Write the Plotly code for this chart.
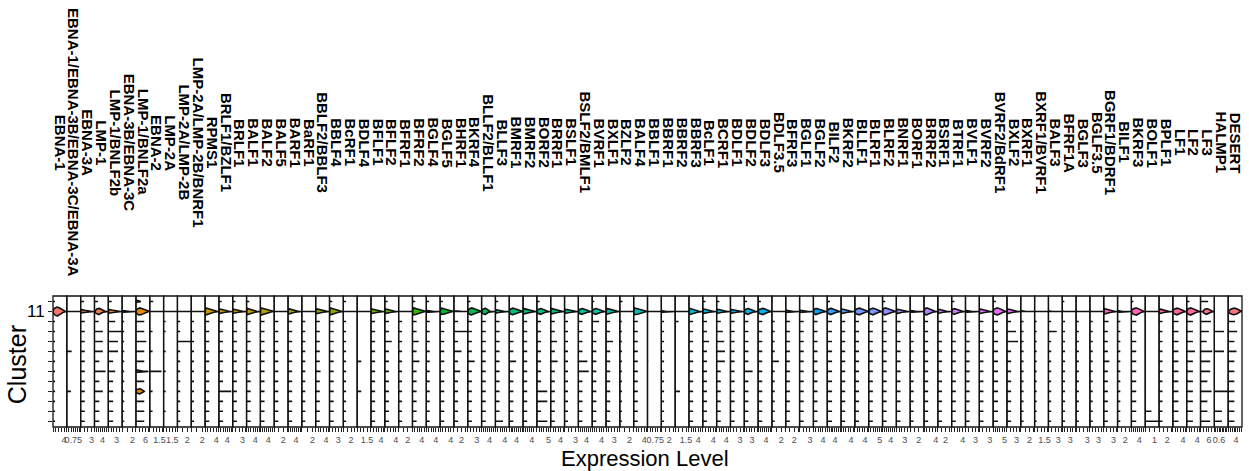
import math
import plotly.graph_objects as go

genes = ["EBNA-1", "EBNA-1/EBNA-3B/EBNA-3C/EBNA-3A", "EBNA-3A", "LMP-1", "LMP-1/BNLF2b",
         "EBNA-3B/EBNA-3C", "LMP-1/BNLF2a", "EBNA-2", "LMP-2A", "LMP-2A/LMP-2B",
         "LMP-2A/LMP-2B/BNRF1", "RPMS1", "BRLF1/BZLF1", "BRLF1", "BALF1", "BALF2", "BALF5",
         "BARF1", "BaRF1", "BBLF2/BBLF3", "BBLF4", "BcRF1", "BDLF4", "BFLF1", "BFLF2", "BFRF1",
         "BFRF2", "BGLF4", "BGLF5", "BHRF1", "BKRF4", "BLLF2/BLLF1", "BLLF3", "BMRF1", "BMRF2",
         "BORF2", "BRRF1", "BSLF1", "BSLF2/BMLF1", "BVRF1", "BXLF1", "BZLF2", "BALF4", "BBLF1",
         "BBRF1", "BBRF2", "BBRF3", "BcLF1", "BCRF1", "BDLF1", "BDLF2", "BDLF3", "BDLF3.5",
         "BFRF3", "BGLF1", "BGLF2", "BILF2", "BKRF2", "BLLF1", "BLRF1", "BLRF2", "BNRF1", "BORF1",
         "BRRF2", "BSRF1", "BTRF1", "BVLF1", "BVRF2", "BVRF2/BdRF1", "BXLF2", "BXRF1",
         "BXRF1/BVRF1", "BALF3", "BFRF1A", "BGLF3", "BGLF3.5", "BGRF1/BDRF1", "BILF1", "BKRF3",
         "BOLF1", "BPLF1", "LF1", "LF2", "LF3", "HALMP1", "DESERT"]

tick_value = [4, 0.75, 3, 4, 3, 2, 6, 1.5, 1.5, 2, 2, 4, 4, 3, 4, 4, 2, 4, 2,
              4, 3, 2, 1.5, 4, 4, 2, 4, 4, 4, 2, 3, 4, 4, 4, 4, 5, 4, 3, 4, 4, 3,
              2, 4, 0.75, 2, 1.5, 4, 4, 4, 3, 3, 4, 2, 2, 3, 4, 4, 4, 4, 5, 4, 3,
              2, 4, 2, 4, 3, 3, 5, 3, 2, 1.5, 3, 3, 3, 3, 3, 2, 4, 1, 2, 4, 4, 6, 0.6, 4]

max_expr = [5.0, 1.6, 3.8, 6.9, 5.0, 2.67, 8.7, 2.14, 2.4, 2.8, 2.5, 4.9, 6.6, 4.3, 6.4, 7.1, 3.1, 6.9, 2.6,
            5.3, 4.8, 3.6, 2.1, 5.5, 5.0, 3.0, 5.9, 5.8, 5.2, 3.6, 4.6, 6.9, 6.0, 7.5, 6.4, 5.9, 5.6, 3.8, 6.9, 6.0, 5.0,
            2.9, 5.2, 1.33, 3.45, 1.9, 6.0, 5.3, 5.8, 4.3, 5.4, 6.9, 3.0, 3.3, 4.0, 5.8, 7.2, 5.6, 5.5, 6.25, 6.7, 5.0,
            3.2, 4.75, 3.6, 5.0, 4.1, 4.0, 6.1, 4.3, 3.2, 2.1, 4.2, 5.2, 3.7, 4.9, 4.3, 3.6, 7.1, 1.5, 3.4, 5.4, 5.3, 9.8, 1.76, 7.1]

# cluster 11 density bulge (relative to gene max): start, mode, end, relative width
b11_start = [0, 0, 0, 0.05, 0, 0, 0, 0, 0, 0, 0, 0, 0, 0, 0, 0, 0, 0, 0,
             0, 0, 0, 0, 0, 0, 0, 0, 0, 0, 0, 0, 0, 0, 0, 0, 0, 0, 0, 0, 0, 0,
             0, 0, 0, 0, 0, 0, 0, 0, 0, 0, 0, 0, 0, 0, 0, 0, 0, 0, 0, 0, 0,
             0, 0, 0, 0, 0, 0, 0, 0, 0, 0, 0, 0, 0, 0, 0, 0, 0, 0, 0, 0, 0, 0.2, 0, 0.05]
b11_peak = [0.35, 0, 0.1, 0.35, 0.1, 0.05, 0.3, 0, 0, 0, 0, 0.05, 0.05, 0.05, 0.05, 0.05, 0, 0.05, 0,
            0.05, 0.05, 0, 0, 0.05, 0.05, 0, 0.1, 0.05, 0.1, 0.05, 0.3, 0.3, 0.05, 0.3, 0.05, 0.3, 0.05, 0.05, 0.3, 0.3, 0.1,
            0, 0.05, 0, 0.05, 0, 0.05, 0.05, 0.05, 0.05, 0.3, 0.4, 0, 0.05, 0.05, 0.2, 0.3, 0.05, 0.35, 0.35, 0.2, 0.05,
            0.05, 0.2, 0.05, 0.2, 0.05, 0.05, 0.35, 0.05, 0.05, 0, 0.05, 0.05, 0, 0.05, 0.05, 0.05, 0.4, 0, 0.05, 0.35, 0.3, 0.5, 0, 0.5]
b11_end = [0.8, 0, 0.6, 0.7, 0.65, 0.3, 0.9, 0, 0, 0, 0, 0.75, 0.6, 0.55, 0.75, 0.85, 0, 0.6, 0,
           0.65, 0.75, 0, 0, 0.65, 0.6, 0, 0.85, 0.35, 0.85, 0.3, 0.85, 0.55, 0.5, 0.85, 0.7, 0.7, 0.7, 0.65, 0.75, 0.75, 0.7,
           0, 0.9, 0, 0.2, 0, 0.75, 0.6, 0.55, 0.6, 0.7, 0.8, 0, 0.35, 0.4, 0.75, 0.75, 0.6, 0.85, 0.8, 0.8, 0.6,
           0.3, 0.7, 0.5, 0.7, 0.3, 0.6, 0.8, 0.6, 0.2, 0, 0.15, 0.15, 0, 0.1, 0.65, 0.2, 0.8, 0, 0.55, 0.8, 0.8, 0.8, 0, 0.9]
b11_width = [1.0, 0, 0.4, 0.7, 0.45, 0.2, 0.8, 0, 0, 0, 0, 0.8, 0.55, 0.5, 0.7, 0.8, 0, 0.6, 0,
             0.6, 0.8, 0, 0, 0.55, 0.55, 0, 0.8, 0.25, 0.75, 0.15, 0.8, 0.7, 0.4, 0.75, 0.65, 0.65, 0.65, 0.5, 0.65, 0.65, 0.65,
             0, 0.8, 0, 0.2, 0, 0.7, 0.55, 0.5, 0.45, 0.65, 0.7, 0, 0.3, 0.3, 0.7, 0.7, 0.55, 0.75, 0.75, 0.8, 0.5,
             0.25, 0.8, 0.5, 0.65, 0.25, 0.55, 0.8, 0.55, 0.15, 0, 0.15, 0.1, 0, 0.1, 0.65, 0.2, 0.8, 0, 0.55, 0.75, 0.8, 0.65, 0, 0.75]

# other clusters with a visible density bulge: (gene, cluster, start, mode, end, width)
extra_bulges = [("LMP-1/BNLF2a", 12, 0, 0.05, 0.35, 0.3),
                ("LMP-1/BNLF2a", 5, 0, 0.05, 0.35, 0.3),
                ("LMP-1/BNLF2a", 3, 0, 0.3, 0.6, 0.6)]

# maximum expression per cluster, relative to the gene maximum (top row = cluster 12)
clu12 = [.15, 0, .25, .25, .25, 0, .35, .25, 0, 0, 0, 0, .2, .2, .2, 0, 0, 0, 0,
         0, .2, .2, 0, 0, .2, 0, .2, .2, .2, 0, .2, 0, .2, 0, 0, .2, 0, 0, 0, .15, 0,
         .2, 0, 0, 0, 0, 0, .2, .2, 0, .2, .2, 0, 0, 0, 0, .2, 0, 0, 0, .2, 0,
         0, 0, 0, .2, 0, 0, .2, 0, 0, 0, 0, .15, 0, 0, 0, 0, .15, 0, 0, 0, .2, .55, 0, 0]
clu11 = [1, 1, 1, 1, 1, 1, 1, 1, 1, 1, 1, 1, 1, 1, 1, 1, 1, 1, 1,
         1, 1, 1, 1, 1, 1, 1, 1, 1, 1, 1, 1, 1, 1, 1, 1, 1, 1, 1, 1, 1, 1,
         1, 1, 1, 1, 1, 1, 1, 1, 1, 1, 1, 1, 1, 1, 1, 1, 1, 1, 1, 1, 1,
         1, 1, 1, 1, 1, 1, 1, 1, 1, 1, 1, 1, 1, 1, 1, 1, 1, 1, 1, 1, 1, 1, 0, 1]
clu10 = [.15, 0, .3, .3, .5, .15, .6, 0, .15, .2, .2, .3, .3, .3, .3, .3, .3, .3, .25,
         .3, .3, .2, 0, .3, .3, .25, .3, .25, .3, .3, .3, .3, .3, .3, .3, .3, .3, .25, .3, .5, .3,
         .15, .3, 0, .2, .25, .3, .3, .3, .3, .3, .3, .2, .3, .3, .3, .35, .3, .3, .3, .3, .3,
         .25, .3, .3, .3, .3, .3, .35, .3, .2, .15, .2, .2, .2, .2, .35, .2, .35, 0, .25, .4, .45, .75, 0, .5]
clu9 = [.15, 0, .3, .6, 1.0, .15, .6, .2, .15, .2, .2, .3, .3, .3, .3, .3, .3, .3, .25,
        .3, .3, .2, 0, .3, .3, .25, .3, .25, .3, 1.0, .3, .3, .3, .3, .3, .3, .3, .25, .3, .3, .3,
        .15, .3, 0, .2, 0, .3, .3, .45, .3, .3, .3, .2, .3, .3, .3, .35, .3, .3, .3, .3, .3,
        .25, .3, .3, .3, .3, .3, .35, .65, .2, .15, .6, .2, .2, .2, .3, .2, .35, 0, .25, .4, .45, .6, .7, .65]
clu8 = [.15, 0, .3, .6, .7, .15, .75, 0, 0, 1.0, .2, .3, .3, .3, .3, .3, .3, .3, .25,
        .3, .3, .2, 0, .3, .5, .25, .45, .25, .3, .3, .3, .3, .3, .3, .3, .3, .45, .25, .3, .3, .5,
        .15, .3, 0, .2, 0, .3, .45, .55, .3, .3, .3, .2, .3, .3, .3, .35, .3, .3, .3, .3, .3,
        .25, .3, .3, .3, .3, .3, .35, .8, .2, .15, .2, .2, .2, .2, .3, .2, .35, 0, .25, .4, .45, .45, 0, .45]
clu7 = [.15, .35, .3, .6, .7, .15, .6, .2, .15, .2, .2, .3, .3, .3, .3, .3, .3, .3, .25,
        .3, .3, .2, 0, .3, .3, .25, .3, .25, .3, .55, .3, .3, .3, .3, .3, .3, .3, .25, .3, .3, .3,
        .15, .3, 0, .2, 0, .3, .3, .6, .3, .3, .3, .2, .3, .3, .3, .35, .3, .3, .3, .3, .3,
        .25, .3, .3, .3, .3, .3, .35, .3, .2, .15, .2, .2, .2, .2, .3, .2, .35, 0, .25, .4, .6, .85, .7, .6]
clu6 = [.15, 0, .3, .35, .35, .15, .6, 0, 0, .2, .2, .3, .3, .3, .3, .3, .3, .3, .25,
        .3, .3, .2, .3, .3, .3, .25, .5, .25, .3, .3, .5, .3, .3, .5, .3, .3, .5, .25, .65, .3, .3,
        .15, .3, .05, .2, 0, .3, .3, .6, .3, .3, .3, .5, .3, .3, .3, .35, .3, .3, .3, .3, .3,
        .25, .3, .3, .3, .3, .3, .35, .3, .2, .15, .2, .2, .2, .2, .4, .2, .35, 0, .25, .4, .45, .7, 0, .45]
clu5 = [.15, 0, .3, .8, .5, .15, .9, .85, .15, .2, .2, .3, .3, .3, .3, .3, .3, .3, .25,
        .35, .3, .2, 0, .3, .3, .25, .3, .25, .3, .45, .3, .3, .3, .3, .3, .3, .3, .25, .75, .3, .3,
        .15, .3, 0, .2, 0, .3, .3, .3, .3, .6, .3, .2, .3, .3, .3, .35, .3, .3, .3, .3, .3,
        .25, .3, .3, .3, .3, .3, .35, .3, .2, .15, .2, .2, .2, .2, .3, .2, .35, 0, .25, .4, .45, .7, 0, .45]
clu4 = [.15, 0, .3, .35, .35, .15, .6, 0, 0, .2, .2, .3, .3, .3, .3, .3, .3, .3, .25,
        .3, .3, .2, 0, .3, .3, .25, .3, .25, .3, .3, .3, .3, .3, .3, .3, .3, .3, .25, .3, .3, .3,
        .15, .3, 0, .2, 0, .3, .3, .3, .3, .3, .3, .2, .3, .3, .3, .35, .3, .3, .3, .3, .3,
        .25, .3, .3, .3, .3, .3, .35, .3, .2, .15, .2, .2, .2, .2, .3, .2, .35, 0, .25, .4, .45, .5, 0, .45]
clu3 = [.15, .3, .3, .6, .35, .15, .6, .2, .15, .2, .2, .3, .9, .3, .3, .3, .3, .3, .25,
        .3, .3, .2, .3, .3, .3, .25, .3, .25, .3, .3, .3, .3, .3, .3, .3, .75, .3, .25, .3, .3, .3,
        .15, .3, 0, .2, .35, .3, .3, .3, .3, .3, .3, .2, .3, .3, .3, .35, .3, .3, .3, .3, .3,
        .25, .3, .3, .3, .3, .3, .35, .3, .2, .15, .2, .2, .2, .2, .3, .2, .35, 0, .25, .4, .45, .8, 1.0, .45]
clu2 = [.15, 0, .3, .35, .35, .15, .6, 0, 0, .2, .2, .3, .3, .3, .3, .3, .3, .3, .25,
        .3, .3, .2, 0, .3, .3, .25, .3, .25, .3, .3, .3, .3, .3, .3, .3, .75, .3, .25, .3, .3, .3,
        .15, .3, 0, .2, 0, .3, .3, .3, .3, .3, .3, .2, .3, .3, .3, .35, .3, .3, .3, .3, .3,
        .25, .3, .3, .3, .3, .3, .35, .3, .2, .15, .2, .2, .2, .2, .3, .2, .35, 0, .25, .4, .45, .5, 0, .45]
clu1 = [.15, 0, .3, .35, .35, .15, .6, .2, .15, .2, .2, .3, .3, .3, .3, .3, .3, .3, .25,
        .3, .3, .2, 0, .3, .3, .25, .3, .25, .3, .3, .3, .3, .3, .3, .3, .3, .3, .25, .3, .3, .3,
        .15, .3, 0, .2, 0, .3, .3, .3, .3, .3, .3, .2, .3, .3, .3, .35, .3, .3, .3, .3, .3,
        .25, .3, .3, .3, .3, .3, .35, .3, .2, .15, .2, .2, .2, .2, .3, .2, .35, .45, .25, .4, .45, .5, .55, .45]
clu0 = [.15, 0, .3, .35, .35, .15, .6, 0, 0, .2, .2, .3, .3, .3, .3, .3, .3, .3, .25,
        .3, .3, .2, 0, .3, .3, .25, .3, .25, .3, .3, .3, .3, .55, .3, .3, .75, .3, .25, .3, .3, .3,
        .15, .3, 0, .2, 0, .3, .3, .3, .3, .3, .3, .2, .3, .3, .3, .35, .3, .3, .3, .3, .3,
        .25, .3, .3, .3, .3, .3, .35, .3, .2, .15, .2, .2, .2, .2, .3, .2, .35, 1.0, .25, .4, .45, .7, .55, .45]

clu_rel = {0: clu0, 1: clu1, 2: clu2, 3: clu3, 4: clu4, 5: clu5, 6: clu6,
           7: clu7, 8: clu8, 9: clu9, 10: clu10, 11: clu11, 12: clu12}
cluster_labels = {11: "11"}


def hcl_hex(h, c=100.0, l=65.0):
    Xn, Yn, Zn = 95.047, 100.0, 108.883
    den = Xn + 15 * Yn + 3 * Zn
    un, vn = 4 * Xn / den, 9 * Yn / den
    hr = math.radians(h)
    u, v = c * math.cos(hr), c * math.sin(hr)
    Y = Yn * ((l + 16) / 116) ** 3 if l > 8 else Yn * l / 903.3
    up, vp = u / (13 * l) + un, v / (13 * l) + vn
    X = Y * 9 * up / (4 * vp)
    Z = Y * (12 - 3 * up - 20 * vp) / (4 * vp)
    X, Y, Z = X / 100, Y / 100, Z / 100
    rgb = [3.2404542 * X - 1.5371385 * Y - 0.4985314 * Z,
           -0.9692660 * X + 1.8760108 * Y + 0.0415560 * Z,
           0.0556434 * X - 0.2040259 * Y + 1.0572252 * Z]
    out = []
    for ch in rgb:
        ch = min(1.0, max(0.0, ch))
        ch = 12.92 * ch if ch <= 0.0031308 else 1.055 * ch ** (1 / 2.4) - 0.055
        out.append(int(round(min(1, max(0, ch)) * 255)))
    return "#%02X%02X%02X" % tuple(out)


n = len(genes)
colors = [hcl_hex(15 + 360 * i / n) for i in range(n)]


def half_width(x, s, p, e, w):
    if w <= 0 or x < s or x > e:
        return 0.0
    if x <= p:
        if p <= s:
            return w
        t = (p - x) / (p - s)
        return w * math.sqrt(max(0.0, 1 - t * t))
    t = (x - p) / (e - p) if e > p else 1.0
    return w * max(0.0, 1 - t) ** 0.85


HALF = 0.45
fig = go.Figure()
for i, g in enumerate(genes):
    M = max_expr[i]
    xs, ys = [], []
    for cl in range(13):
        rel = clu_rel[cl][i]
        if rel <= 0:
            continue
        bul = []
        if cl == 11 and b11_width[i] > 0:
            bul.append((b11_start[i], b11_peak[i], b11_end[i], b11_width[i]))
        for (gg, cc, s, p, e, w) in extra_bulges:
            if gg == g and cc == cl:
                bul.append((s, p, e, w))
        pts = [rel * k / 80 for k in range(81)]
        for (s, p, e, w) in bul:
            pts += [s, p, e]
        pts = sorted(set(q for q in pts if 0 <= q <= rel))
        hs = []
        for q in pts:
            hv = 0.0
            for (s, p, e, w) in bul:
                hv = max(hv, half_width(q, s, p, e, w))
            hs.append(hv * HALF)
        yc = cl + 1
        top_x = [q * M for q in pts]
        xs += top_x + top_x[::-1] + [top_x[0], None]
        ys += [yc + hh for hh in hs] + [yc - hh for hh in hs[::-1]] + [yc + hs[0], None]
    fig.add_trace(go.Scatter(x=xs, y=ys, xaxis="x" if i == 0 else f"x{i+1}", yaxis="y",
                             mode="lines", fill="toself", fillcolor=colors[i],
                             line=dict(color="#111111", width=1.6), hoverinfo="skip",
                             showlegend=False))

layout = dict(width=1249, height=471, paper_bgcolor="white", plot_bgcolor="white",
              margin=dict(l=53, r=4, t=296, b=44), showlegend=False)

for i, g in enumerate(genes):
    key = "xaxis" if i == 0 else f"xaxis{i+1}"
    T = tick_value[i]
    step = {0.6: 0.2, 0.75: 0.25, 1: 0.5, 1.5: 0.5, 6: 2}.get(T, 1)
    vals, txt = [], []
    k = 0
    while k * step <= max_expr[i] + 1e-9:
        v = round(k * step, 4)
        vals.append(v)
        txt.append(("%g" % T) if abs(v - T) < 1e-6 else "")
        k += 1
    layout[key] = dict(domain=[i / n, (i + 1) / n], range=[0, max_expr[i]], anchor="y",
                       showgrid=False, zeroline=False, showline=False,
                       ticks="outside", ticklen=4, tickwidth=1, tickcolor="#222222",
                       tickvals=vals, ticktext=txt,
                       tickfont=dict(family="Liberation Sans Narrow, Liberation Sans", size=9,
                                     color="#4D4D4D"))

layout["yaxis"] = dict(range=[0.43, 13.55], tickvals=list(range(1, 14)),
                       ticktext=[cluster_labels.get(c, "") for c in range(13)],
                       ticks="outside", ticklen=4, tickcolor="#222222", showgrid=False,
                       zeroline=False, showline=False,
                       tickfont=dict(family="Liberation Sans", size=17, color="black"))

shapes = []
annotations = []
for i, g in enumerate(genes):
    xr = "x" if i == 0 else f"x{i+1}"
    shapes.append(dict(type="rect", xref=f"{xr} domain", yref="y domain", x0=0, x1=1, y0=0, y1=1,
                       line=dict(color="#111111", width=1.3), fillcolor="rgba(0,0,0,0)", layer="above"))
    annotations.append(dict(text=g, xref=f"{xr} domain", x=0.5, yref="paper", y=2.17,
                            xanchor="center", yanchor="middle", textangle=90, showarrow=False,
                            font=dict(family="Liberation Sans", size=15, color="black", weight="bold")))

annotations.append(dict(text="Expression Level", xref="paper", x=0.4975, yref="paper", y=-0.24,
                        xanchor="center", yanchor="middle", showarrow=False,
                        font=dict(family="Liberation Sans", size=22, color="black")))
annotations.append(dict(text="Cluster", xref="paper", x=-0.0296, yref="paper", y=0.478,
                        xanchor="center", yanchor="middle", textangle=-90, showarrow=False,
                        font=dict(family="Liberation Sans", size=25, color="black")))
layout["shapes"] = shapes
layout["annotations"] = annotations
fig.update_layout(**layout)
fig.write_html("out.html")
